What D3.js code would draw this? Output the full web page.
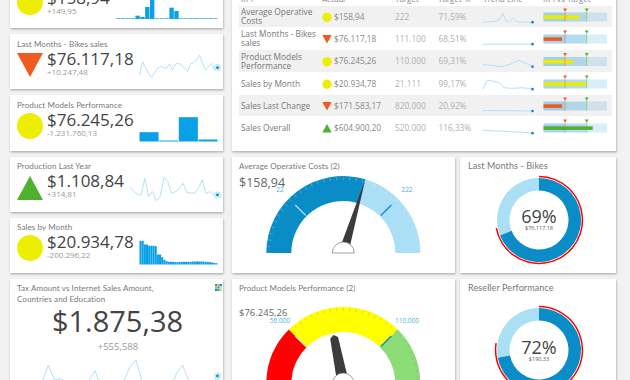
<!DOCTYPE html>
<html>
<head>
<meta charset="utf-8">
<script src="https://cdn.jsdelivr.net/npm/d3@7"></script>
<style>
  html, body { margin: 0; padding: 0; background: #f2f2f2; overflow: hidden; }
  svg { display: block; font-family: "Open Sans", sans-serif; }
  .ttl { font-family: Lato, sans-serif; letter-spacing: 0.1px; }
</style>
</head>
<body>
<div id="chart"></div>
<script>
// --- Data ---
const tableHeaders = ["KPI", "Actual", "Target", "Target %", "Trend Line", "KPI vs Target"];
const tableKpis = [["Average Operative", "Costs"], ["Last Months - Bikes", "sales"], ["Product Models", "Performance"], ["Sales by Month"], ["Sales Last Change"], ["Sales Overall"]];
const tableActuals = ["$158,94", "$76.117,18", "$76.245,26", "$20.934,78", "$171.583,17", "$604.900,20"];
const tableTargets = ["222", "111.100", "110.000", "21.111", "820.000", "520.000"];
const tablePercents = ["71,59%", "68,51%", "69,31%", "99,17%", "20,92%", "116,33%"];
const tableStatus = ["mid", "down", "mid", "mid", "down", "up"];
const tableBullets = [84, 43, 68, 99, 43, 114];
const bulletMarkers = [50, 100];
const tableTrends = [
  [1, 1, 2, 3, 4, 9, 28, 3, 3, 14, 4, 1, 1, 1, 1, 1],
  [1, 1, 1, 1],
  [8, 6, 5, 3, 1, 4, 8, 14, 20, 14, 8, 1],
  [1, 28, 26, 24, 20, 6, 4, 4, 4, 5, 5, 3, 1],
  [3, 2.5, 2, 1.5],
  [10, 8, 7, 5, 4, 1]
];

const barsCostValues = [2, 2, 2, 2, 10, 6, 36, 80, 2, 2, 2, 34, 24, 2, 2, 2, 2, 2, 2, 2, 2];
const sparkBikes = [15, 55, 37, 20, 8, 20, 35, 40, 37, 35, 48, 30, 48, 50, 45, 35, 25, 48, 52, 60, 75, 50, 30, 40, 50, 30, 37];
const barsModelValues = [28, 3, 73, 6];
const sparkProduction = [48, 38, 28, 24, 75, 20, 35, 8, 20, 78, 65, 30, 35, 45, 60, 32, 31, 30, 45, 70, 30, 35, 25, 25];
const barsMonthValues = [71, 71, 60, 60, 56, 56, 56, 55, 30, 30, 22, 14, 10, 8, 8, 8, 7, 7, 8, 8, 8, 8, 8, 8, 9, 9, 9, 9, 9, 9, 8, 8, 7, 6, 5, 4];
const sparkTax = [20, 10, 25, 20, 30, 60, 105, 60, 65, 55, 30, 15, 40, 60, 88, 40, 15, 10, 30, 60, 100, 120, 60, 20, 5, 15, 25, 40, 80, 105, 60, 15, 10, 30, 40, 72];

const gaugeCostDomain = [-78, 322];
const gaugeCostValue = 158.94;
const gaugeCostTargets = [22, 222];
const gaugeModelDomain = [29000, 137000];
const gaugeModelValue = 76245.26;
const gaugeModelTargets = [56000, 110000];

const donutBikes = { pct: 69, target: 72 };
const donutReseller = { pct: 72, target: 77.5 };

// --- Palette ---
const colors = {
  up: "#50b030", down: "#f05a1e", mid: "#eeee00",
  bar: "#0aa0e6", spark: "#b3e2f7", dark: "#0a8cc6", light: "#aadff5",
  title: "#777", text: "#444", sub: "#999"
};

const svg = d3.select("#chart").append("svg").attr("width", 630).attr("height", 380);

const shadow = svg.append("defs").append("filter").attr("id", "shadow")
  .attr("x", "-5%").attr("y", "-5%").attr("width", "110%").attr("height", "115%");
shadow.append("feDropShadow").attr("dx", 0.5).attr("dy", 1.2).attr("stdDeviation", 1)
  .attr("flood-color", "#888").attr("flood-opacity", 0.7);

function card(x, y, x2, y2) {
  svg.append("rect").attr("x", x).attr("y", y).attr("width", x2 - x).attr("height", y2 - y)
    .attr("fill", "#fff").attr("filter", "url(#shadow)");
}

function label(txt, x, y, size, fill, anchor) {
  return svg.append("text").attr("x", x).attr("y", y).attr("font-size", size)
    .attr("fill", fill).attr("text-anchor", anchor || "start").text(txt);
}

function title(txt, x, y, size) {
  return label(txt, x, y, size || 8, colors.title).attr("class", "ttl");
}

function statusIcon(kind, cx, cy, r) {
  if (kind === "mid") {
    svg.append("circle").attr("cx", cx).attr("cy", cy).attr("r", r).attr("fill", colors.mid);
    return;
  }
  const h = r * 0.92, sign = kind === "down" ? 1 : -1;
  const pts = [[cx - r, cy - sign * h], [cx + r, cy - sign * h], [cx, cy + sign * h]];
  svg.append("path").attr("d", d3.line()(pts) + "Z").attr("fill", colors[kind]);
}

function barsChart(values, x0, x1, base, top, domainMax, pad) {
  const x = d3.scaleBand().domain(d3.range(values.length)).range([x0, x1]).paddingInner(pad);
  const y = d3.scaleLinear().domain([0, domainMax]).range([base, top]);
  svg.append("g").selectAll("rect").data(values).join("rect")
    .attr("x", (d, i) => x(i)).attr("width", x.bandwidth())
    .attr("y", d => y(d)).attr("height", d => base - y(d))
    .attr("fill", colors.bar);
}

function sparkline(values, x0, x1, yBottom, yTop, domainMax, withRing) {
  const x = d3.scaleLinear().domain([0, values.length - 1]).range([x0, x1]);
  const y = d3.scaleLinear().domain([0, domainMax]).range([yBottom, yTop]);
  svg.append("path").datum(values).attr("fill", "none").attr("stroke", colors.spark).attr("stroke-width", 1)
    .attr("d", d3.line().x((d, i) => x(i)).y(d => y(d)));
  const last = values[values.length - 1];
  if (withRing) {
    svg.append("circle").attr("cx", x1).attr("cy", y(last)).attr("r", 3.2)
      .attr("fill", "#d6f0fb").attr("stroke", colors.spark).attr("stroke-width", 0.8);
  }
  svg.append("circle").attr("cx", x1).attr("cy", y(last)).attr("r", 1.4).attr("fill", colors.dark);
}

function kpiCard(o) {
  card(10, o.top, 223, o.bottom);
  if (o.title) title(o.title, 17, o.titleY);
  statusIcon(o.status, 30, o.iconY, 13);
  label(o.value, 47, o.valueY, 17, colors.text);
  label(o.sub, 47, o.valueY + 10, 8, colors.sub);
}

// --- KPI cards, left column ---
kpiCard({ top: -20, bottom: 28, status: "mid", iconY: 2, value: "$158,94", valueY: 4, sub: "+149,95" });
barsChart(barsCostValues, 116, 217.5, 19, -7.7, 80, 0.1);

kpiCard({ top: 34, bottom: 89, title: "Last Months - Bikes sales", titleY: 47, status: "down", iconY: 65, value: "$76.117,18", valueY: 65, sub: "+10.247,48" });
sparkline(sparkBikes, 139.5, 217.5, 80, 53.3, 80, true);

kpiCard({ top: 95, bottom: 151, title: "Product Models Performance", titleY: 108, status: "mid", iconY: 126, value: "$76.245,26", valueY: 126, sub: "-1.231.760,13" });
barsChart(barsModelValues, 139.5, 217.5, 141.5, 117.2, 73, 0.03);

kpiCard({ top: 157, bottom: 212, title: "Production Last Year", titleY: 169, status: "up", iconY: 188, value: "$1.108,84", valueY: 187, sub: "+314,81" });
sparkline(sparkProduction, 129.5, 217.5, 203.3, 177.3, 78, true);

kpiCard({ top: 218, bottom: 273, title: "Sales by Month", titleY: 230, status: "mid", iconY: 248, value: "$20.934,78", valueY: 248, sub: "-200.296,22" });
barsChart(barsMonthValues, 139.5, 217.5, 264.5, 240.8, 71, 0.05);

// --- Big KPI card ---
card(10, 279, 223, 400);
title("Tax Amount vs Internet Sales Amount,", 17, 291);
title("Countries and Education", 17, 302);
label("$1.875,38", 117.5, 332, 29, colors.text, "middle");
label("+555,588", 118, 350, 9.5, colors.sub, "middle");
sparkline(sparkTax, 13.5, 217.5, 400, 330, 210, true);
const iconCells = ["#0aa0e6", "#eeb000", "#0a8cc6", "#eeb000", "#0aa0e6", "#aadff5", "#0a8cc6", "#0aa0e6", "#eee000"];
const iconScale = d3.scaleBand().domain(d3.range(3)).range([215, 222]).paddingInner(0.1);
svg.append("g").selectAll("rect").data(iconCells).join("rect")
  .attr("x", (d, i) => iconScale(i % 3)).attr("y", (d, i) => 284 + iconScale(Math.floor(i / 3)) - 215)
  .attr("width", iconScale.bandwidth()).attr("height", iconScale.bandwidth()).attr("fill", d => d);

// --- KPI table ---
card(232, -20, 616, 151);
const rowTop = d3.scaleOrdinal().domain(d3.range(6)).range([6, 27, 50, 72, 95, 116]);
const rowBottom = [27, 50, 72, 95, 116, 139];
const colX = [241, 322, 395, 438, 483, 543];
tableHeaders.forEach((h, i) => label(h, colX[i], 2, 8, "#888"));

tableKpis.forEach((lines, i) => {
  const top = rowTop(i), bottom = rowBottom[i], cy = (top + bottom) / 2;
  if (i % 2 === 0) {
    svg.append("rect").attr("x", 239).attr("y", top).attr("width", 373).attr("height", bottom - top).attr("fill", "#f1f1f1");
  }
  if (lines.length === 2) {
    label(lines[0], 241, cy - 1.5, 8.3, colors.title);
    label(lines[1], 241, cy + 7.5, 8.3, colors.title);
  } else {
    label(lines[0], 241, cy + 3, 8.3, colors.title);
  }
  statusIcon(tableStatus[i], 327, cy + 0.7, 4.7);
  label(tableActuals[i], 334, cy + 3, 8.3, "#888");
  label(tableTargets[i], 395, cy + 3, 8.3, "#b0b0b0");
  label(tablePercents[i], 438.5, cy + 3, 8.3, "#b0b0b0");

  // trend line
  const trend = tableTrends[i];
  const tx = d3.scaleLinear().domain([0, trend.length - 1]).range([483, 532.5]);
  const ty = d3.scaleLinear().domain([0, 30]).range([cy + 6, cy - 4]);
  svg.append("path").datum(trend).attr("fill", "none").attr("stroke", colors.spark).attr("stroke-width", 1)
    .attr("d", d3.line().x((d, k) => tx(k)).y(d => ty(d)));
  svg.append("circle").attr("cx", 532.5).attr("cy", ty(trend[trend.length - 1])).attr("r", 1.3).attr("fill", colors.dark);

  // bullet
  const bx = d3.scaleLinear().domain([0, 147]).range([543.5, 607]);
  const bandFills = i % 2 === 0 ? ["#9fcfe6", "#b0d6e8", "#cfe2ec"] : ["#a5d6ee", "#b4dcf0", "#d8eef8"];
  const stops = [0, 50, 100, 147];
  bandFills.forEach((f, k) => {
    svg.append("rect").attr("x", bx(stops[k])).attr("width", bx(stops[k + 1]) - bx(stops[k]))
      .attr("y", cy - 4).attr("height", 9).attr("fill", f);
  });
  svg.append("rect").attr("x", bx(0)).attr("width", bx(tableBullets[i]) - bx(0))
    .attr("y", cy - 1.2).attr("height", 3.6).attr("fill", colors[tableStatus[i]] === colors.mid ? "#ecec00" : colors[tableStatus[i]]);
  bulletMarkers.forEach((m, k) => {
    const mc = k === 0 ? colors.down : colors.up;
    svg.append("line").attr("x1", bx(m)).attr("x2", bx(m)).attr("y1", cy - 6).attr("y2", cy + 5)
      .attr("stroke", mc).attr("stroke-opacity", 0.45).attr("stroke-width", 1);
    svg.append("path").attr("fill", mc)
      .attr("d", d3.line()([[bx(m) - 2, cy - 8], [bx(m) + 2, cy - 8], [bx(m), cy - 5]]) + "Z");
  });
});

// --- Gauges ---
const gaugeAngle = domain => d3.scaleLinear().domain(domain).range([-Math.PI / 2, Math.PI / 2]);

function gaugeTicks(angle, domain, cx, cy, stroke) {
  const tickVals = d3.range(0, 37).map(k => domain[0] + (domain[1] - domain[0]) * k / 36);
  svg.append("g").selectAll("line").data(tickVals).join("line")
    .attr("x1", d => cx + 76 * Math.sin(angle(d))).attr("y1", d => cy - 76 * Math.cos(angle(d)))
    .attr("x2", d => cx + 73 * Math.sin(angle(d))).attr("y2", d => cy - 73 * Math.cos(angle(d)))
    .attr("stroke", stroke).attr("stroke-opacity", 0.45).attr("stroke-width", 0.6);
}

function gaugeBands(angle, cx, cy, bands) {
  const arc = d3.arc().innerRadius(52).outerRadius(77);
  svg.append("g").attr("transform", `translate(${cx},${cy})`).selectAll("path").data(bands).join("path")
    .attr("fill", d => d.fill)
    .attr("d", d => arc({ startAngle: angle(d.from), endAngle: angle(d.to) }));
}

function gaugeMarker(angle, cx, cy, v, stroke) {
  svg.append("line")
    .attr("x1", cx + 53 * Math.sin(angle(v))).attr("y1", cy - 53 * Math.cos(angle(v)))
    .attr("x2", cx + 68 * Math.sin(angle(v))).attr("y2", cy - 68 * Math.cos(angle(v)))
    .attr("stroke", stroke).attr("stroke-width", 1.3);
}

function hub(cx, cy) {
  const arc = d3.arc().innerRadius(0).outerRadius(11).startAngle(-Math.PI / 2).endAngle(Math.PI / 2);
  svg.append("path").attr("transform", `translate(${cx},${cy})`).attr("d", arc())
    .attr("fill", "#fff").attr("stroke", "#777").attr("stroke-width", 0.7);
}

const gaugeCx = 343.3;

// Average operative costs
card(232, 157, 455, 273);
title("Average Operative Costs (2)", 239, 169);
label("$158,94", 239, 187, 12.5, "#666");
label(String(gaugeCostTargets[0]), 280, 192, 6.5, "#4ab0e0", "middle");
label(String(gaugeCostTargets[1]), 407, 192, 6.5, "#4ab0e0", "middle");
const costCy = 253;
const costAngle = gaugeAngle(gaugeCostDomain);
gaugeBands(costAngle, gaugeCx, costCy, [
  { from: gaugeCostDomain[0], to: gaugeCostValue, fill: colors.dark },
  { from: gaugeCostValue, to: gaugeCostDomain[1], fill: colors.light }
]);
gaugeTicks(costAngle, gaugeCostDomain, gaugeCx, costCy, "#fff");
gaugeMarker(costAngle, gaugeCx, costCy, gaugeCostTargets[0], colors.light);
gaugeMarker(costAngle, gaugeCx, costCy, gaugeCostTargets[1], colors.dark);
svg.append("path").attr("fill", "#3c3c3c")
  .attr("transform", `translate(${gaugeCx},${costCy}) rotate(${costAngle(gaugeCostValue) * 180 / Math.PI})`)
  .attr("d", "M-4.5,-7L0,-77L4.5,-7Z");
hub(gaugeCx, costCy);

// Product models performance
card(232, 279, 455, 400);
title("Product Models Performance (2)", 239, 291);
label("$76.245,26", 239, 316, 9.5, "#666");
label("56.000", 280, 323, 6.5, "#4ab0e0", "middle");
label("110.000", 407, 323, 6.5, "#4ab0e0", "middle");
const modelCy = 384;
const modelAngle = gaugeAngle(gaugeModelDomain);
gaugeBands(modelAngle, gaugeCx, modelCy, [
  { from: gaugeModelDomain[0], to: gaugeModelTargets[0], fill: "#ff0000" },
  { from: gaugeModelTargets[0], to: gaugeModelTargets[1], fill: "#ffff00" },
  { from: gaugeModelTargets[1], to: gaugeModelDomain[1], fill: "#8cdc78" }
]);
gaugeTicks(modelAngle, gaugeModelDomain, gaugeCx, modelCy, "#777");
gaugeMarker(modelAngle, gaugeCx, modelCy, gaugeModelTargets[0], colors.light);
gaugeMarker(modelAngle, gaugeCx, modelCy, gaugeModelTargets[1], colors.dark);
svg.append("path").attr("fill", "#3c3c3c")
  .attr("transform", `translate(${gaugeCx},${modelCy}) rotate(${modelAngle(gaugeModelValue) * 180 / Math.PI})`)
  .attr("d", "M-5.5,-8L-4,-47L0,-50L4,-47L5.5,-8Z");
hub(gaugeCx, modelCy);

// --- Donuts ---
function donut(cx, cy, d, bigY, subTxt, subY) {
  const turn = d3.scaleLinear().domain([0, 100]).range([0, 2 * Math.PI]);
  const ring = d3.arc().innerRadius(29.5).outerRadius(42);
  const g = svg.append("g").attr("transform", `translate(${cx},${cy})`);
  g.append("path").attr("fill", colors.light).attr("d", ring({ startAngle: turn(d.pct), endAngle: turn(100) }));
  g.append("path").attr("fill", colors.dark).attr("d", ring({ startAngle: 0, endAngle: turn(d.pct) }));
  g.append("path").attr("fill", "#f00")
    .attr("d", d3.arc().innerRadius(42.7).outerRadius(44.2)({ startAngle: 0, endAngle: turn(d.target) }));
  label(d.pct + "%", cx, bigY, 18, colors.text, "middle");
  label(subTxt, cx, subY, 5.5, "#555", "middle");
}

card(460, 157, 616, 273);
title("Last Months - Bikes", 468, 169, 9);
donut(539, 220, donutBikes, 223, "$76.117,18", 230);

card(460, 279, 616, 400);
title("Reseller Performance", 468, 291, 9);
donut(539, 350, donutReseller, 354, "$190,33", 361);
</script>
</body>
</html>
